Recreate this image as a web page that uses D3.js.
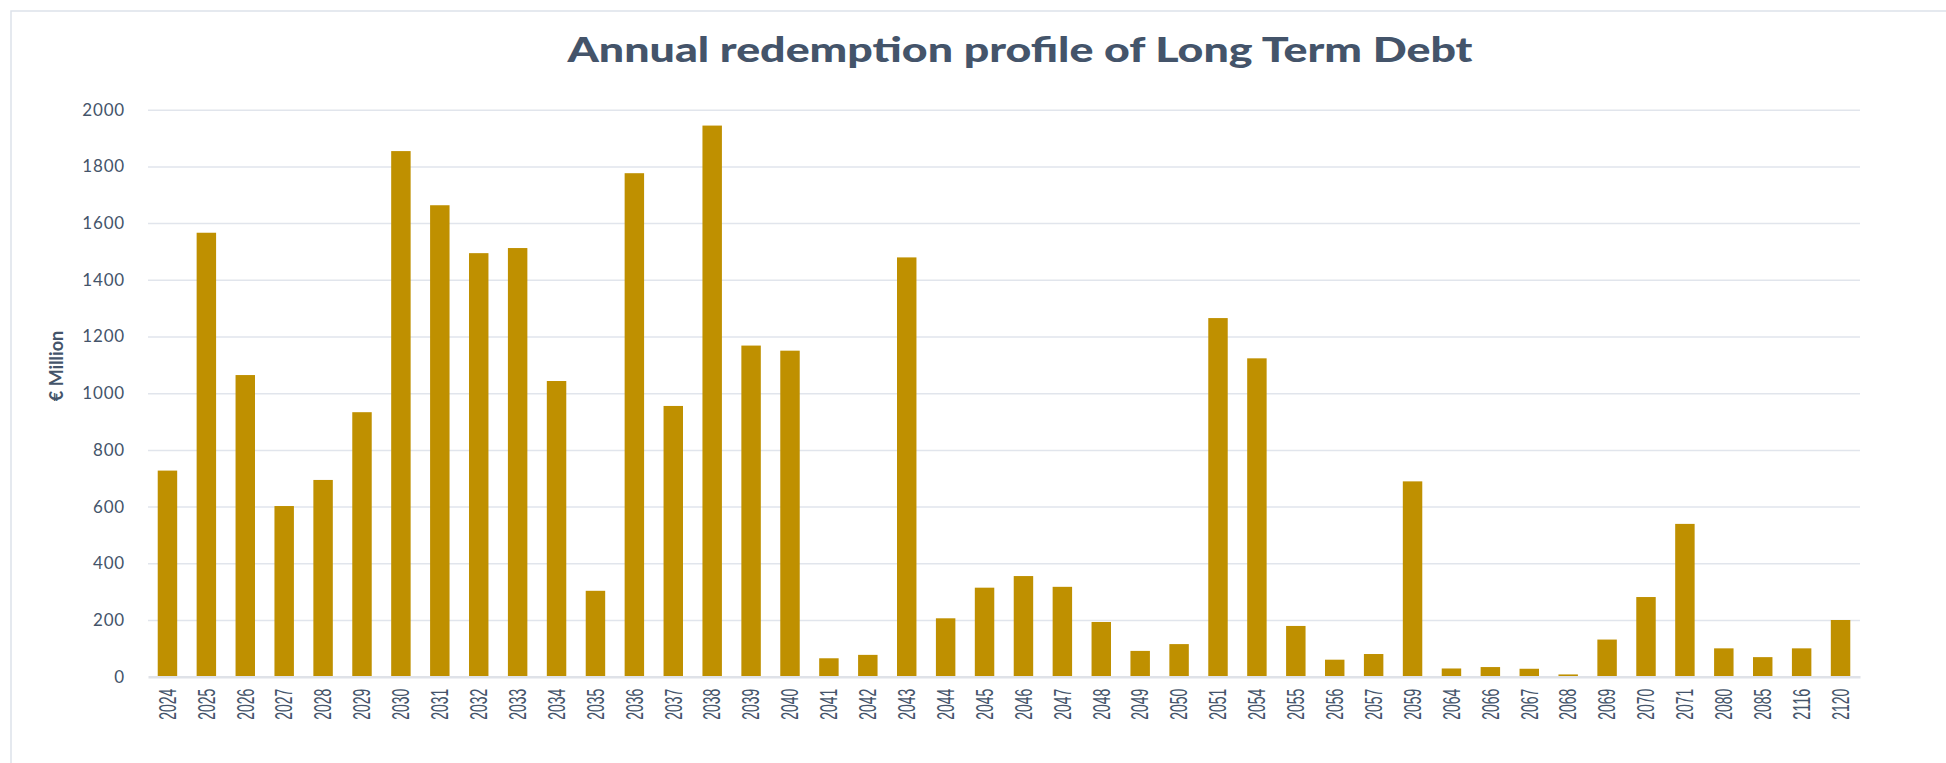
<!DOCTYPE html>
<html>
<head>
<meta charset="utf-8">
<script src="https://cdn.jsdelivr.net/npm/d3@7"></script>
<style>
  body { margin: 0; background: #fff; }
  svg { display: block; }
</style>
</head>
<body>
<div id="chart"></div>
<script>
// data
var years = ["2024","2025","2026","2027","2028","2029","2030","2031","2032","2033","2034","2035",
  "2036","2037","2038","2039","2040","2041","2042","2043","2044","2045","2046","2047","2048",
  "2049","2050","2051","2054","2055","2056","2057","2059","2064","2066","2067","2068","2069",
  "2070","2071","2080","2085","2116","2120"];
var redemptions = [727,1566,1064,602,694,933,1854,1663,1494,1512,1043,303,
  1776,955,1944,1168,1150,65,77,1479,206,314,355,317,193,
  91,115,1265,1123,179,60,80,689,29,34,28,8,131,
  281,539,100,69,100,200];
var yTicks = [0,200,400,600,800,1000,1200,1400,1600,1800,2000];

var W = 1946, H = 763;
var margin = {top: 109.7, right: W - 1860, bottom: H - 676.7, left: 148};
var width = W - margin.left - margin.right,
    height = H - margin.top - margin.bottom;

var textCol = "#44546a";

var svg = d3.select("#chart").append("svg")
  .attr("width", W).attr("height", H);

// outer frame
svg.append("rect")
  .attr("x", 11).attr("y", 11)
  .attr("width", 2000).attr("height", 1000)
  .attr("fill", "none").attr("stroke", "#dde2ea").attr("stroke-width", 1.5);

// title
svg.append("text")
  .attr("x", 1020).attr("y", 62)
  .attr("text-anchor", "middle")
  .attr("textLength", 905).attr("lengthAdjust", "spacingAndGlyphs")
  .style("font-family", "Lato, 'Open Sans', sans-serif")
  .style("font-weight", 900)
  .style("font-size", "34px")
  .style("fill", textCol)
  .text("Annual redemption profile of Long Term Debt");

var g = svg.append("g")
  .attr("transform", "translate(" + margin.left + "," + margin.top + ")");

var x = d3.scaleBand()
  .domain(years)
  .range([0, width])
  .paddingInner(0.5)
  .paddingOuter(0.25);

var y = d3.scaleLinear()
  .domain([0, 2000])
  .range([height, 0]);

// grid lines
g.append("g")
  .attr("class", "grid")
  .call(d3.axisLeft(y).tickValues(yTicks.slice(1)).tickSize(-width).tickFormat(""))
  .call(function (s) { s.select(".domain").remove(); })
  .selectAll("line")
    .attr("stroke", "#e1e5ec").attr("stroke-width", 1.5);

// y axis labels
g.append("g")
  .call(d3.axisLeft(y).tickValues(yTicks).tickSize(0).tickPadding(23).tickFormat(d3.format("d")))
  .call(function (s) { s.select(".domain").remove(); })
  .selectAll("text")
    .style("font-family", "Lato, sans-serif")
    .style("font-size", "17px")
    .style("letter-spacing", "0.8px")
    .style("fill", textCol);

// bars
g.selectAll(".bar")
  .data(redemptions)
  .enter()
  .append("rect")
    .attr("class", "bar")
    .attr("x", function (d, i) { return x(years[i]); })
    .attr("width", x.bandwidth())
    .attr("y", function (d) { return y(d); })
    .attr("height", function (d) { return height - y(d); })
    .attr("fill", "#bf9000");

// x axis
var xAxis = g.append("g")
  .attr("transform", "translate(0," + height + ")")
  .call(d3.axisBottom(x).tickSize(0));
xAxis.select(".domain")
  .attr("stroke", "#dfe2e8").attr("stroke-width", 2.5);
xAxis.selectAll("text")
  .attr("transform", "rotate(-90)")
  .attr("text-anchor", "end")
  .attr("x", -12)
  .attr("y", 0)
  .attr("dy", "0.36em")
  .attr("textLength", 31).attr("lengthAdjust", "spacingAndGlyphs")
  .style("font-family", "'Liberation Sans', Arial, sans-serif")
  .style("font-size", "23px")
  .style("fill", textCol);

// y axis title
svg.append("text")
  .attr("transform", "translate(63,366) rotate(-90)")
  .attr("text-anchor", "middle")
  .style("font-family", "Lato, sans-serif")
  .style("font-weight", 700)
  .style("font-size", "18px")
  .style("fill", textCol)
  .text("€ Million");
</script>
</body>
</html>
